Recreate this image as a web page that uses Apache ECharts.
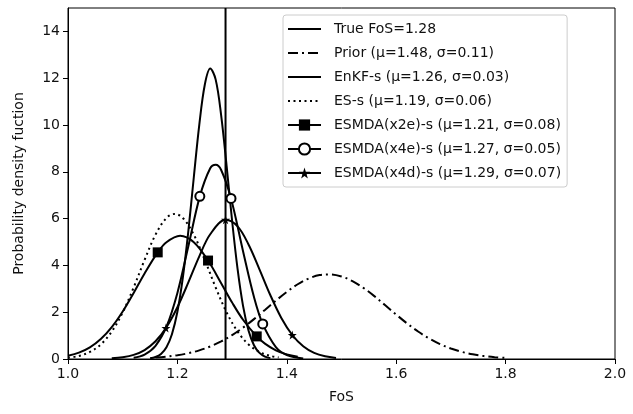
<!DOCTYPE html>
<html>
<head>
<meta charset="utf-8">
<script src="https://cdn.jsdelivr.net/npm/echarts@6/dist/echarts.min.js"></script>
<style>
  html, body { margin: 0; padding: 0; background: #fff; }
  #root { width: 633px; height: 414px; }
</style>
</head>
<body>
<div id="root"></div>
<script>
// 数据：概率密度曲线
var trueFoS = [1.288];
var yTicks = [0, 2, 4, 6, 8, 10, 12, 14];

var priorX = [1.16, 1.18, 1.20, 1.22, 1.24, 1.26, 1.28, 1.30, 1.32, 1.34, 1.36, 1.38, 1.40, 1.42, 1.44, 1.46, 1.48,
  1.50, 1.52, 1.54, 1.56, 1.58, 1.60, 1.62, 1.64, 1.66, 1.68, 1.70, 1.72, 1.74, 1.76, 1.78, 1.80];
var priorY = [0.060, 0.099, 0.159, 0.247, 0.370, 0.536, 0.752, 1.021, 1.341, 1.705, 2.097, 2.493, 2.869, 3.195, 3.441, 3.587, 3.616,
  3.528, 3.329, 3.040, 2.686, 2.294, 1.899, 1.519, 1.175, 0.880, 0.637, 0.447, 0.303, 0.199, 0.126, 0.077, 0.046];

var enkfX = [1.15, 1.16, 1.17, 1.18, 1.19, 1.20, 1.21, 1.22, 1.23, 1.24, 1.25, 1.26, 1.27, 1.28, 1.29, 1.30, 1.31, 1.32,
  1.33, 1.34, 1.35, 1.36, 1.37];
var enkfY = [0.030, 0.085, 0.218, 0.505, 1.059, 2.018, 3.488, 5.467, 7.768, 10.01, 11.71, 12.41, 11.94, 10.41, 8.24, 5.908, 3.848, 2.269,
  1.216, 0.589, 0.260, 0.104, 0.038];

var esX = [1.00, 1.02, 1.04, 1.06, 1.08, 1.10, 1.12, 1.14, 1.16, 1.18, 1.195, 1.21, 1.23, 1.25, 1.27, 1.29, 1.31, 1.33, 1.35, 1.37, 1.385];
var esY = [0.057, 0.131, 0.301, 0.624, 1.172, 1.989, 3.054, 4.235, 5.313, 6.027, 6.2, 6.027, 5.313, 4.235, 3.054, 1.989, 1.172, 0.624, 0.301, 0.131, 0.066];

var x2eX = [1.00, 1.02, 1.04, 1.06, 1.08, 1.10, 1.12, 1.14, 1.164, 1.18, 1.205, 1.23, 1.256, 1.28, 1.30, 1.32, 1.345, 1.36, 1.38, 1.40, 1.42];
var x2eY = [0.139, 0.272, 0.499, 0.854, 1.362, 2.029, 2.820, 3.656, 4.557, 4.992, 5.27, 4.992, 4.207, 3.239, 2.413, 1.677, 0.966, 0.659, 0.372, 0.196, 0.096];
var x2eMarks = [1.164, 1.256, 1.345];

var x4eX = [1.12, 1.14, 1.16, 1.18, 1.20, 1.22, 1.241, 1.26, 1.27, 1.28, 1.298, 1.32, 1.34, 1.356, 1.38, 1.40, 1.43];
var x4eY = [0.055, 0.192, 0.564, 1.381, 2.825, 4.818, 6.950, 8.149, 8.298, 8.076, 6.861, 4.607, 2.650, 1.497, 0.510, 0.171, 0.023];
var x4eMarks = [1.241, 1.298, 1.356];

var x4dX = [1.08, 1.10, 1.12, 1.14, 1.16, 1.179, 1.20, 1.22, 1.24, 1.26, 1.288, 1.31, 1.33, 1.35, 1.37, 1.39, 1.41, 1.43, 1.45, 1.47, 1.49];
var x4dY = [0.027, 0.073, 0.175, 0.382, 0.756, 1.323, 2.214, 3.271, 4.386, 5.331, 5.947, 5.667, 4.894, 3.834, 2.724, 1.755, 1.026, 0.544, 0.261, 0.114, 0.045];
var x4dMarks = [1.179, 1.288, 1.41];

var names = ['True FoS=1.28', 'Prior (μ=1.48, σ=0.11)', 'EnKF-s (μ=1.26, σ=0.03)', 'ES-s (μ=1.19, σ=0.06)',
  'ESMDA(x2e)-s (μ=1.21, σ=0.08)', 'ESMDA(x4e)-s (μ=1.27, σ=0.05)', 'ESMDA(x4d)-s (μ=1.29, σ=0.07)'];

var FONT = 'DejaVu Sans';
var STAR = 'path://M50,0 L61,35 L98,35 L68,57 L79,91 L50,70 L21,91 L32,57 L2,35 L39,35 Z';

// 组合成 [x, y]，只在标记位置显示符号
function pairs(xs, ys, marks) {
  return xs.map(function(x, i) {
    var item = {value: [x, ys[i]]};
    if (!marks || marks.indexOf(x) < 0) {
      item.symbol = 'none';
    }
    return item;
  });
}

function curve(name, xs, ys, dash, symbol, size, marks) {
  return {
    name: name,
    type: 'line',
    data: pairs(xs, ys, marks),
    smooth: 0.35,
    symbol: symbol || 'none',
    symbolSize: size || 0,
    showSymbol: !!symbol,
    showAllSymbol: true,
    color: '#000',
    itemStyle: {color: '#000', borderWidth: symbol === 'emptyCircle' ? 1.5 : 0},
    lineStyle: {color: '#000', width: 2, type: dash || 'solid'},
    z: 3
  };
}

// 图例：没有标记的线去掉默认圆点
var legendData = names.map(function(n, i) {
  return i < 4 ? {name: n, itemStyle: {opacity: 0}} : {name: n};
});

var option = {
  animation: false,
  backgroundColor: '#fff',
  grid: {left: 68, right: 18, top: 8, bottom: 55, show: true, borderColor: '#000', borderWidth: 1},
  legend: {
    orient: 'vertical',
    left: 283,
    top: 15,
    padding: [7, 6, 7, 4],
    itemWidth: 33,
    itemHeight: 14,
    itemGap: 10,
    borderColor: '#ccc',
    borderWidth: 1,
    borderRadius: 3,
    backgroundColor: 'rgba(255,255,255,0.85)',
    textStyle: {fontFamily: FONT, fontSize: 14, color: '#111', padding: [0, 0, 0, 8]},
    data: legendData
  },
  xAxis: {
    type: 'value',
    min: 1.0,
    max: 2.0,
    interval: 0.2,
    name: 'FoS',
    nameLocation: 'middle',
    nameGap: 31,
    nameTextStyle: {fontFamily: FONT, fontSize: 14, color: '#111'},
    axisLine: {show: true, lineStyle: {color: '#000', width: 1}},
    axisTick: {show: true, inside: false, length: 5, lineStyle: {color: '#000'}},
    axisLabel: {fontFamily: FONT, fontSize: 14, color: '#111', margin: 8, formatter: function(v) { return v.toFixed(1); }},
    splitLine: {show: false}
  },
  yAxis: {
    type: 'value',
    min: 0,
    max: 15,
    name: 'Probability density fuction',
    nameLocation: 'middle',
    nameGap: 42,
    nameTextStyle: {fontFamily: FONT, fontSize: 14, color: '#111'},
    axisLine: {show: true, lineStyle: {color: '#000', width: 1}},
    axisTick: {show: true, inside: false, length: 5, lineStyle: {color: '#000'}, customValues: yTicks},
    axisLabel: {fontFamily: FONT, fontSize: 14, color: '#111', margin: 8, customValues: yTicks},
    splitLine: {show: false}
  },
  series: [
    {
      name: names[0],
      type: 'line',
      data: [[trueFoS[0], 0], [trueFoS[0], 15]],
      symbol: 'none',
      color: '#000',
      lineStyle: {color: '#000', width: 2},
      z: 2
    },
    curve(names[1], priorX, priorY, [10, 4, 2, 4]),
    curve(names[2], enkfX, enkfY),
    curve(names[3], esX, esY, [2, 3.5]),
    curve(names[4], x2eX, x2eY, 'solid', 'rect', 10, x2eMarks),
    curve(names[5], x4eX, x4eY, 'solid', 'emptyCircle', 9, x4eMarks),
    curve(names[6], x4dX, x4dY, 'solid', STAR, 9, x4dMarks)
  ]
};

var myChart = echarts.init(document.getElementById('root'));
myChart.setOption(option);
</script>
</body>
</html>
